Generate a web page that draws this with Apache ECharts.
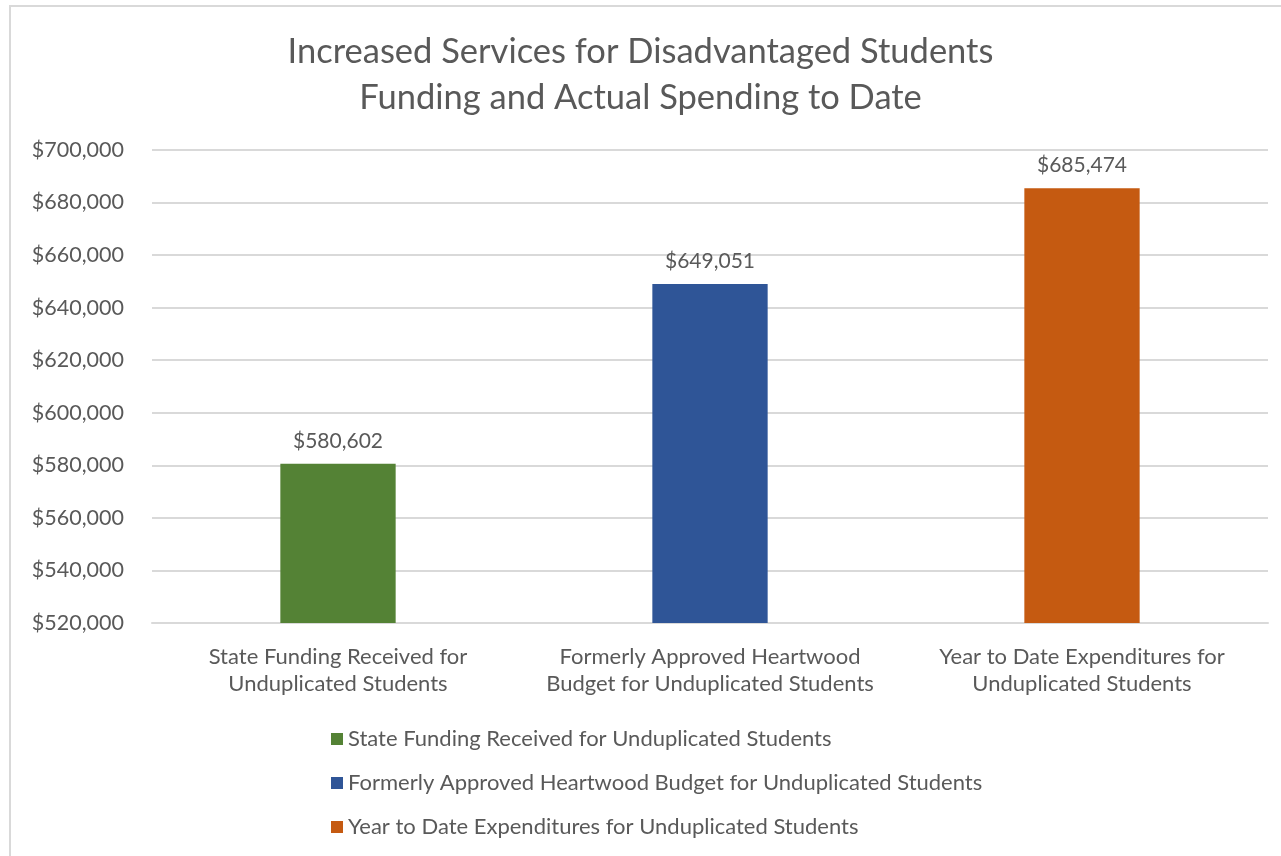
<!DOCTYPE html>
<html>
<head>
<meta charset="utf-8">
<script src="https://cdn.jsdelivr.net/npm/echarts@6/dist/echarts.min.js"></script>
<style>
html,body{margin:0;padding:0;background:#fff;}
#frame{position:absolute;left:9px;top:5px;width:1300px;height:900px;border:2px solid #d9d9d9;box-sizing:border-box;}
#chart{position:absolute;left:0;top:0;width:1281px;height:856px;}
</style>
</head>
<body>
<div id="frame"></div>
<div id="chart"></div>
<script>
const titleLines = ["Increased Services for Disadvantaged Students", "Funding and Actual Spending to Date"];
const categories = ["State Funding Received for\nUnduplicated Students", "Formerly Approved Heartwood\nBudget for Unduplicated Students", "Year to Date Expenditures for\nUnduplicated Students"];
const seriesNames = ["State Funding Received for Unduplicated Students", "Formerly Approved Heartwood Budget for Unduplicated Students", "Year to Date Expenditures for Unduplicated Students"];
const values = [580602, 649051, 685474];
const colors = ["#548235", "#2F5597", "#C55A11"];
const yMin = 520000, yMax = 700000, yStep = 20000;

const FONT = "Lato";
const TXT = "#595959";
const fmt = v => "$" + Math.round(v).toLocaleString("en-US");

const series = seriesNames.map((name, i) => ({
  name: name,
  type: "bar",
  stack: "all",
  barWidth: "31%",
  itemStyle: { color: colors[i] },
  label: {
    show: true, position: "top", distance: 12,
    color: TXT, fontFamily: FONT, fontSize: 21,
    formatter: p => fmt(p.value)
  },
  data: categories.map((c, j) => j === i ? values[i] : null)
}));

const chart = echarts.init(document.getElementById("chart"), null, { renderer: "canvas" });
chart.setOption({
  animation: false,
  title: {
    text: titleLines.join("\n"),
    left: "center", top: 24,
    textStyle: { color: TXT, fontFamily: FONT, fontSize: 34.5, fontWeight: "normal", lineHeight: 46 }
  },
  grid: { left: 152, right: 13, top: 150, bottom: 233, containLabel: false },
  xAxis: {
    type: "category", data: categories,
    axisLine: { show: true, lineStyle: { color: "#d9d9d9", width: 2 } },
    axisTick: { show: false },
    axisLabel: { interval: 0, hideOverlap: false, color: TXT, fontFamily: FONT, fontSize: 22, lineHeight: 27, margin: 20 }
  },
  yAxis: {
    type: "value", min: yMin, max: yMax, interval: yStep,
    axisLine: { show: false }, axisTick: { show: false },
    splitLine: { lineStyle: { color: "#d9d9d9", width: 2 } },
    axisLabel: { color: TXT, fontFamily: FONT, fontSize: 21.5, margin: 28, formatter: v => fmt(v) }
  },
  legend: {
    orient: "vertical", left: 326, top: 723,
    itemWidth: 12, itemHeight: 12, itemGap: 22,
    icon: "rect",
    textStyle: { color: TXT, fontFamily: FONT, fontSize: 22, lineHeight: 22 },
    data: seriesNames
  },
  series: series
});
</script>
</body>
</html>
